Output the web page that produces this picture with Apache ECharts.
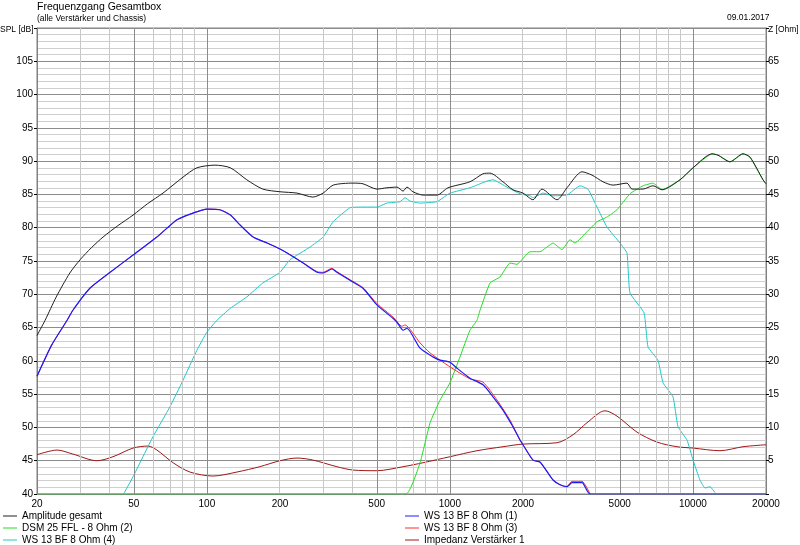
<!DOCTYPE html>
<html>
<head>
<meta charset="utf-8">
<title>Frequenzgang Gesamtbox</title>
<script src="https://cdn.jsdelivr.net/npm/echarts@6/dist/echarts.min.js"></script>
<style>
  html, body { margin: 0; padding: 0; background: #fff; }
  #main { width: 800px; height: 545px; }
</style>
</head>
<body>
<div id="main"></div>
<script>
// [frequency Hz, dB]
const amplitudeGesamt = [
  [20, 63.8], [21.6, 66.1], [24, 69.6], [27.3, 73.2], [30.1, 75.2], [33.5, 77.0],
  [37.4, 78.6], [43, 80.3], [49.7, 81.9], [57, 83.6], [66, 85.2], [79.8, 87.6],
  [91, 89.0], [108, 89.4], [125, 89.0], [146, 87.2], [170, 85.8], [200, 85.4],
  [235, 85.2], [273, 84.6], [301, 85.2], [331, 86.4], [399, 86.7], [439, 86.6],
  [501, 85.8], [551, 86.0], [606, 86.1], [642, 85.5], [666, 86.1], [705, 85.4],
  [776, 84.9], [885, 84.9], [983, 86.0], [1210, 86.9], [1369, 88.1], [1463, 88.2],
  [1654, 86.9], [1818, 85.7], [2000, 85.2], [2198, 84.2], [2394, 85.8], [2761, 84.2],
  [3034, 86.0], [3498, 88.4], [3846, 87.9], [4268, 86.9], [4692, 86.4], [5357, 86.7],
  [5616, 85.8], [6234, 85.8], [6855, 86.3], [7466, 85.7], [8855, 87.2], [10017, 89.0],
  [11993, 91.1], [12692, 90.9], [14224, 89.9], [16082, 91.1], [17190, 90.6],
  [19437, 87.2], [20000, 86.6]
];

const dsm25 = [
  [20, 40], [660, 40], [754, 44.7], [829, 50.7], [911, 54.1], [1001, 56.7],
  [1101, 60.6], [1210, 64.6], [1293, 66.1], [1331, 67.6], [1463, 71.7], [1608, 72.6],
  [1768, 74.7], [1889, 74.5], [2136, 76.4], [2350, 76.4], [2658, 77.7], [2894, 76.7],
  [3122, 78.2], [3273, 77.7], [3668, 79.4], [4032, 80.9], [4433, 81.6], [4874, 82.7],
  [5511, 85.1], [6234, 86.3], [6855, 86.7], [7466, 85.7], [8855, 87.2], [10017, 89.0],
  [11993, 91.1], [12692, 90.9], [14224, 89.9], [16082, 91.1], [17190, 90.6],
  [19437, 87.2], [20000, 86.6]
];

const ws13ch4 = [
  [45.6, 40.1], [49.7, 42.6], [60, 48.6], [70.5, 53.1], [79.8, 57.1], [91, 61.6],
  [100, 64.3], [110, 66.1], [125, 67.9], [146, 69.6], [170, 71.7], [200, 73.3],
  [220, 75.2], [266, 77.1], [301, 78.6], [331, 80.9], [388, 83.0], [439, 83.1],
  [501, 83.1], [551, 83.7], [623, 83.9], [654, 84.5], [686, 84.0], [754, 83.7],
  [885, 83.9], [937, 84.5], [1001, 85.2], [1210, 86.0], [1422, 87.0], [1505, 87.2],
  [1718, 86.1], [1944, 85.1], [2136, 84.8], [2198, 84.5], [2417, 85.2], [2658, 84.8],
  [3034, 84.9], [3432, 86.3], [3703, 85.8], [4032, 83.1], [4433, 80.1], [5014, 77.7],
  [5357, 76.2], [5511, 70.2], [6300, 67.2], [6536, 62.1], [7188, 60.1], [7537, 56.7],
  [8287, 54.6], [8689, 50.1], [9463, 48.1], [10017, 45.1], [10698, 42.1],
  [11220, 40.9], [11766, 41.1], [12337, 40.2]
];

const ws13ch1 = [
  [20, 57.7], [23, 62.4], [26.6, 66.1], [28.1, 67.6], [33, 70.9], [40, 73.3],
  [49.7, 75.9], [62.3, 78.6], [75.4, 81.2], [87.7, 82.2], [100, 82.8], [113, 82.7],
  [125, 81.9], [137, 80.4], [155, 78.6], [177, 77.7], [200, 76.8], [214, 76.2],
  [249, 74.7], [284, 73.3], [301, 73.2], [327, 73.8], [343, 73.3], [388, 72.1],
  [439, 70.9], [501, 68.4], [583, 66.4], [606, 65.8], [642, 64.6], [666, 64.9],
  [754, 61.9], [852, 60.6], [911, 60.1], [1001, 59.8], [1070, 58.9], [1210, 57.4],
  [1369, 56.4], [1505, 54.6], [1654, 52.6], [1818, 50.1], [1944, 48.1], [2000, 47.4],
  [2198, 45.1], [2350, 44.8], [2658, 42.1], [2840, 41.4], [3034, 41.1], [3181, 41.7],
  [3498, 41.7], [3774, 40], [20000, 40]
];

const ws13ch3 = [
  [20, 57.7], [23, 62.4], [26.6, 66.1], [28.1, 67.6], [33, 70.9], [40, 73.3],
  [49.7, 75.9], [62.3, 78.6], [75.4, 81.2], [87.7, 82.2], [100, 82.8], [113, 82.7],
  [125, 81.9], [137, 80.4], [155, 78.6], [177, 77.7], [200, 76.8], [214, 76.2],
  [249, 74.7], [284, 73.4], [301, 73.3], [327, 73.9], [343, 73.4], [388, 72.2],
  [439, 71.0], [501, 68.6], [583, 66.6], [635, 65.2], [654, 65.4], [754, 62.7],
  [829, 61.2], [1001, 59.1], [1210, 57.3], [1369, 56.8], [1565, 54.1], [1768, 51.1],
  [1944, 48.1], [2000, 47.4], [2198, 45.1], [2350, 44.8], [2658, 42.1], [2840, 41.4],
  [3034, 41.1], [3181, 41.9], [3498, 41.9], [3774, 40]
];

// [frequency Hz, Ohm] on the right axis
const impedanz = [
  [20, 5.9], [24.2, 6.6], [28.1, 6.0], [35.3, 5.0], [41.1, 5.6], [49.7, 6.9],
  [57.2, 7.2], [62.3, 6.6], [72.6, 4.7], [85.2, 3.3], [106, 2.7], [133, 3.3],
  [165, 4.1], [200, 5.0], [235, 5.4], [273, 5.1], [343, 4.1], [399, 3.6], [501, 3.5],
  [642, 4.1], [776, 4.7], [1001, 5.6], [1293, 6.5], [1654, 7.1], [2000, 7.5],
  [2761, 7.7], [3212, 8.9], [3668, 10.7], [4350, 12.5], [4874, 11.7], [5889, 9.3],
  [7120, 7.8], [8607, 7.1], [10017, 6.9], [12934, 6.5], [16082, 7.1], [20000, 7.4]
];

const freqLabels = [20, 50, 100, 200, 500, 1000, 2000, 5000, 10000, 20000];
const gridFreqs = [
  30, 40, 50, 60, 70, 80, 90, 100, 200, 300, 400, 500, 600, 700, 800, 900,
  1000, 2000, 3000, 4000, 5000, 6000, 7000, 8000, 9000, 10000
];
const strongFreqs = [50, 100, 500, 1000, 5000, 10000];

const FONT = 'Liberation Sans, Arial, sans-serif';
const lg = Math.log10;
const toXY = (arr) => arr.map((p) => [lg(p[0]), p[1]]);

const dom = document.getElementById('main');
const chart = echarts.init(dom, null, { renderer: 'canvas' });

function lineSeries(name, data, color, yAxisIndex, z, smooth, width) {
  return {
    name: name,
    type: 'line',
    data: toXY(data),
    yAxisIndex: yAxisIndex,
    showSymbol: false,
    symbol: 'none',
    smooth: smooth,
    z: z,
    lineStyle: { color: color, width: width || 1 },
    itemStyle: { color: color },
    animation: false
  };
}

function plainText(text, left, top, size) {
  return {
    text: text,
    left: left,
    top: top,
    padding: 0,
    textStyle: { fontFamily: FONT, fontSize: size, fontWeight: 'normal', color: '#000' }
  };
}

const legendText = { fontFamily: FONT, fontSize: 10, color: '#000', lineHeight: 12 };

chart.setOption({
  backgroundColor: '#fff',
  animation: false,
  title: [
    {
      text: 'Frequenzgang Gesamtbox',
      subtext: '(alle Verstärker und Chassis)',
      left: 37,
      top: 2,
      padding: 0,
      itemGap: 1,
      textStyle: { fontFamily: FONT, fontSize: 10.5, fontWeight: 'normal', color: '#000' },
      subtextStyle: { fontFamily: FONT, fontSize: 8.5, color: '#000' }
    },
    plainText('09.01.2017', 727, 13, 8.5),
    plainText('SPL [dB]', 0, 25, 8.5),
    plainText('Z [Ohm]', 768, 25, 8.5)
  ],
  legend: [
    {
      orient: 'vertical',
      left: 3,
      top: 510,
      height: 40,
      padding: 0,
      itemGap: 0,
      itemWidth: 14,
      itemHeight: 1,
      icon: 'rect',
      selectedMode: false,
      textStyle: legendText,
      data: ['Amplitude gesamt', 'DSM 25 FFL - 8 Ohm (2)', 'WS 13 BF 8 Ohm (4)']
    },
    {
      orient: 'vertical',
      left: 405,
      top: 510,
      height: 40,
      padding: 0,
      itemGap: 0,
      itemWidth: 14,
      itemHeight: 1,
      icon: 'rect',
      selectedMode: false,
      textStyle: legendText,
      data: ['WS 13 BF 8 Ohm (1)', 'WS 13 BF 8 Ohm (3)', 'Impedanz Verstärker 1']
    }
  ],
  grid: {
    left: 37,
    right: 34,
    top: 28,
    bottom: 51,
    outerBoundsMode: 'none',
    containLabel: false,
    show: true,
    borderColor: '#808080',
    borderWidth: 1
  },
  xAxis: {
    type: 'value',
    min: lg(20),
    max: lg(20000),
    axisLine: { show: true, lineStyle: { color: '#808080' } },
    axisTick: { show: false },
    splitLine: { show: false },
    axisLabel: {
      customValues: freqLabels.map(lg),
      formatter: (v) => String(Math.round(Math.pow(10, v))),
      fontFamily: FONT,
      fontSize: 10,
      color: '#000',
      margin: 5
    }
  },
  yAxis: [
    {
      type: 'value',
      position: 'left',
      min: 40,
      max: 110,
      interval: 5,
      axisLine: { show: true, lineStyle: { color: '#808080' } },
      axisTick: { show: true, length: 3, lineStyle: { color: '#000' } },
      axisLabel: {
        formatter: (v) => (v === 110 ? '' : String(v)),
        fontFamily: FONT,
        fontSize: 10,
        color: '#000',
        margin: 4
      },
      splitLine: { show: true, lineStyle: { color: '#8c8c8c', width: 1 } },
      minorTick: { show: false, splitNumber: 5 },
      minorSplitLine: { show: true, lineStyle: { color: '#cfcfcf', width: 1 } }
    },
    {
      type: 'value',
      position: 'right',
      min: 0,
      max: 70,
      interval: 5,
      axisLine: { show: true, lineStyle: { color: '#808080' } },
      axisTick: { show: true, length: 3, lineStyle: { color: '#000' } },
      axisLabel: {
        formatter: (v) => (v === 70 || v === 0 ? '' : String(v)),
        fontFamily: FONT,
        fontSize: 10,
        color: '#000',
        margin: 2
      },
      splitLine: { show: false }
    }
  ],
  series: [
    {
      // vertical frequency grid
      name: 'grid',
      type: 'line',
      data: [[lg(20), 40]],
      symbol: 'none',
      silent: true,
      z: 1,
      lineStyle: { opacity: 0 },
      markLine: {
        silent: true,
        symbol: ['none', 'none'],
        label: { show: false },
        animation: false,
        data: gridFreqs.map((f) => ({
          xAxis: lg(f),
          lineStyle: {
            type: 'solid',
            width: 1,
            color: strongFreqs.includes(f) ? '#8c8c8c' : '#c8c8c8'
          }
        }))
      }
    },
    lineSeries('Impedanz Verstärker 1', impedanz, '#a01818', 1, 3, 0.3),
    lineSeries('WS 13 BF 8 Ohm (4)', ws13ch4, '#20c8c8', 0, 4, 0.12),
    lineSeries('DSM 25 FFL - 8 Ohm (2)', dsm25, '#22dd22', 0, 5, 0.12),
    lineSeries('WS 13 BF 8 Ohm (3)', ws13ch3, '#ff2a2a', 0, 6, 0.2),
    lineSeries('WS 13 BF 8 Ohm (1)', ws13ch1, '#1a1aff', 0, 7, 0.2, 1.2),
    lineSeries('Amplitude gesamt', amplitudeGesamt, '#202020', 0, 8, 0.25)
  ]
});
</script>
</body>
</html>
